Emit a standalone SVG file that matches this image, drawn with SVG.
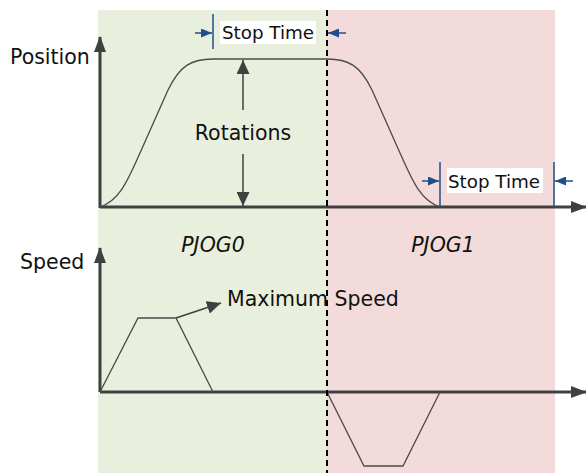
<svg xmlns="http://www.w3.org/2000/svg" width="586" height="473" viewBox="0 0 586 473">
<style>
.lbl{font-family:"DejaVu Sans",sans-serif;font-size:20.5px;fill:#111}
.st{font-family:"DejaVu Sans",sans-serif;font-size:18.3px;fill:#111}
.it{font-family:"DejaVu Sans",sans-serif;font-size:20.5px;font-style:italic;fill:#111}
.axis{stroke:#404040;stroke-width:3;fill:none}
.curve{stroke:#4a4a4a;stroke-width:1.3;fill:none}
.thin{stroke:#404040;stroke-width:1.5;fill:none}
.blue{stroke:#1F4E8C;stroke-width:1.5;fill:none}
.box{fill:#fff}
</style>
<defs>
<marker id="ah" viewBox="0 0 16 12" refX="15" refY="6" markerWidth="16" markerHeight="12" markerUnits="userSpaceOnUse" orient="auto"><path d="M0,0L16,6L0,12Z" fill="#404040"/></marker>
<marker id="ahs" viewBox="0 0 14 13" refX="14" refY="6.5" markerWidth="14" markerHeight="13" markerUnits="userSpaceOnUse" orient="auto"><path d="M0,0L14,6.5L0,13Z" fill="#404040"/></marker>
<marker id="ahb" viewBox="0 0 11 9" refX="11" refY="4.5" markerWidth="11" markerHeight="9" markerUnits="userSpaceOnUse" orient="auto"><path d="M0,0L11,4.5L0,9Z" fill="#1F4E8C"/></marker>
</defs>
<g id="background">
<rect x="98" y="10" width="229" height="463" fill="#E9EFDD"/>
<rect x="327" y="10" width="228" height="463" fill="#F2DBDA"/>
</g>
<g id="connectors">
<line class="axis" x1="100" y1="208" x2="100" y2="37" marker-end="url(#ah)"/>
<line class="axis" x1="100" y1="207" x2="586" y2="207" marker-end="url(#ah)"/>
<line class="axis" x1="100" y1="392" x2="100" y2="248" marker-end="url(#ah)"/>
<line class="axis" x1="100" y1="392" x2="586" y2="392" marker-end="url(#ah)"/>
<path class="curve" d="M100,207 C120,200 128,180 140,153 L168,90 C180,65 192,59 213,59 L327,59 C348,59 360,65 372,90 L400,153 C412,180 420,200 440,207"/>
<path class="curve" d="M100,392 L138,318 L176,318 L213,392"/>
<path class="curve" d="M327,392 L364,466 L403,466 L440,392"/>
<line class="thin" x1="176" y1="318" x2="221" y2="303" marker-end="url(#ahs)"/>
<line class="thin" x1="243" y1="110" x2="243" y2="60" marker-end="url(#ahs)"/>
<line class="thin" x1="243" y1="154" x2="243" y2="206" marker-end="url(#ahs)"/>
<line x1="327" y1="10" x2="327" y2="473" stroke="#000" stroke-width="2" stroke-dasharray="6,4"/>
<line class="blue" x1="213" y1="14" x2="213" y2="49"/>
<line class="blue" x1="195" y1="33" x2="212" y2="33" marker-end="url(#ahb)"/>
<line class="blue" x1="346" y1="33" x2="328" y2="33" marker-end="url(#ahb)"/>
<line class="blue" x1="440" y1="162" x2="440" y2="207"/>
<line class="blue" x1="422" y1="181" x2="439" y2="181" marker-end="url(#ahb)"/>
<line class="blue" x1="554" y1="162" x2="554" y2="207"/>
<line class="blue" x1="573" y1="181" x2="555" y2="181" marker-end="url(#ahb)"/>
</g>
<g id="position-label"><text class="lbl" x="10" y="64">Position</text></g>
<g id="speed-label"><text class="lbl" x="20" y="269">Speed</text></g>
<g id="rotations"><text class="lbl" x="243" y="140" text-anchor="middle">Rotations</text></g>
<g id="stop-time-1"><rect class="box" x="220" y="21" width="96" height="23"/><text class="st" x="222" y="39">Stop Time</text></g>
<g id="stop-time-2"><rect class="box" x="447" y="168" width="96" height="25"/><text class="st" x="448" y="188">Stop Time</text></g>
<g id="pjog0"><text class="it" x="213" y="252" text-anchor="middle">PJOG0</text></g>
<g id="pjog1"><text class="it" x="443" y="252" text-anchor="middle">PJOG1</text></g>
<g id="max-speed"><text class="lbl" x="227" y="306">Maximum Speed</text></g>
</svg>
